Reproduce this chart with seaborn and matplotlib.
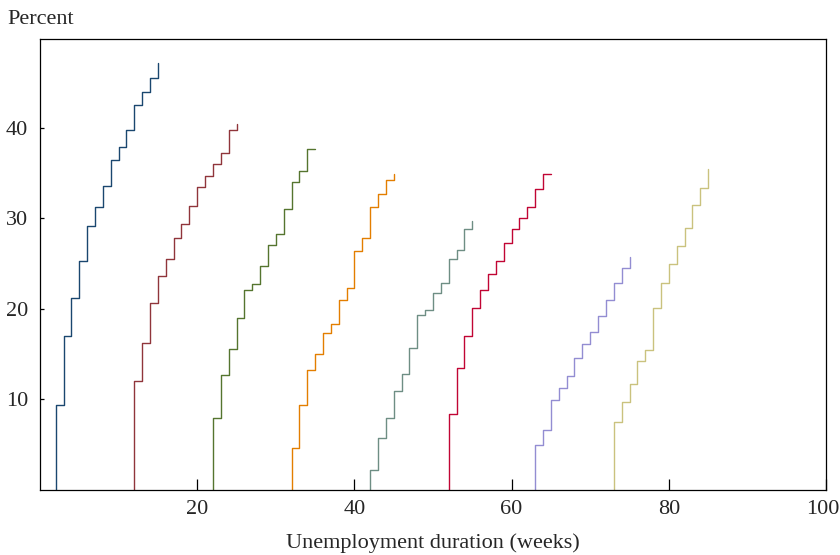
import numpy as np
import pandas as pd
import matplotlib
matplotlib.use("Agg")
import matplotlib.pyplot as plt
import matplotlib.transforms as mtransforms
import seaborn as sns

# Start week of each curve and the cumulative percent reached at each successive week
starts = [2, 12, 22, 32, 42, 52, 63, 73]
levels = [
    [9.4, 17.0, 21.2, 25.3, 29.2, 31.3, 33.6, 36.4, 37.9, 39.8, 42.5, 44.0, 45.5, 47.1],
    [12.0, 16.2, 20.6, 23.6, 25.5, 27.8, 29.4, 31.4, 33.5, 34.7, 36.0, 37.2, 39.8, 40.4],
    [7.9, 12.7, 15.55, 19.0, 22.05, 22.8, 24.75, 27.1, 28.3, 31.0, 34.0, 35.2, 37.6, 37.6],
    [4.6, 9.4, 13.2, 15.0, 17.3, 18.35, 20.95, 22.25, 26.4, 27.85, 31.3, 32.7, 34.25, 34.9],
    [2.25, 5.7, 7.9, 10.9, 12.8, 15.7, 19.35, 19.9, 21.8, 22.9, 25.5, 26.55, 28.85, 29.65],
    [8.4, 13.45, 17.05, 20.1, 22.1, 23.8, 25.3, 27.25, 28.85, 30.0, 31.2, 33.25, 34.9, 34.9],
    [4.95, 6.6, 9.9, 11.25, 12.6, 14.55, 16.15, 17.45, 19.25, 21.0, 22.85, 24.55, 25.75],
    [7.55, 9.75, 11.75, 14.2, 15.45, 20.05, 22.9, 25.0, 26.95, 28.9, 31.5, 33.3, 35.45],
]
colors = ["#1a476f", "#90353b", "#55752f", "#e37e00",
          "#6e8e84", "#c10534", "#938dd2", "#cac27e"]
xticks = [20, 40, 60, 80, 100]
yticks = [10, 20, 30, 40]

rows = []
for g, (s, lv) in enumerate(zip(starts, levels)):
    rows.append((g, s, 0.0))
    for i, v in enumerate(lv):
        rows.append((g, s + i, v))
df = pd.DataFrame(rows, columns=["group", "week", "percent"])

sns.set_theme(style="white")
plt.rcParams["font.family"] = ["Liberation Serif", "DejaVu Serif"]

fig = plt.figure(figsize=(8.4, 5.55), dpi=100)
ax = fig.add_axes([40 / 840, 1 - 490 / 555, (826 - 40) / 840, (490 - 39) / 555])

sns.lineplot(data=df, x="week", y="percent", hue="group", palette=colors,
             estimator=None, sort=False, drawstyle="steps-post",
             linewidth=1.0, legend=False, ax=ax)

ax.set_xlim(0, 100)
ax.set_ylim(0, 49.8)
ax.set_xticks(xticks)
ax.set_yticks(yticks)
ax.set_xticklabels([str(t) for t in xticks])
ax.set_yticklabels([str(t) for t in yticks])
ax.tick_params(axis="x", direction="in", length=8, width=0.9, color="black",
               labelsize=16, pad=7.5, bottom=True)
ax.tick_params(axis="y", direction="in", length=3.2, width=0.9, color="black",
               labelsize=16, pad=8.4, left=True)
for sp in ax.spines.values():
    sp.set_visible(True)
    sp.set_color("black")
    sp.set_linewidth(0.9)

# nudge the rightmost tick label so it stays inside the figure, as in the reference
last = ax.get_xticklabels()[-1]
last.set_transform(last.get_transform() +
                   mtransforms.ScaledTranslation(-3.5 / 100, 0, fig.dpi_scale_trans))

ax.set_xlabel("Unemployment duration (weeks)", fontsize=16, labelpad=10)
ax.set_ylabel("")
fig.text(7 / 840, 1 - 23.5 / 555, "Percent", fontsize=16, ha="left", va="baseline")

fig.savefig("out.png", dpi=100)
